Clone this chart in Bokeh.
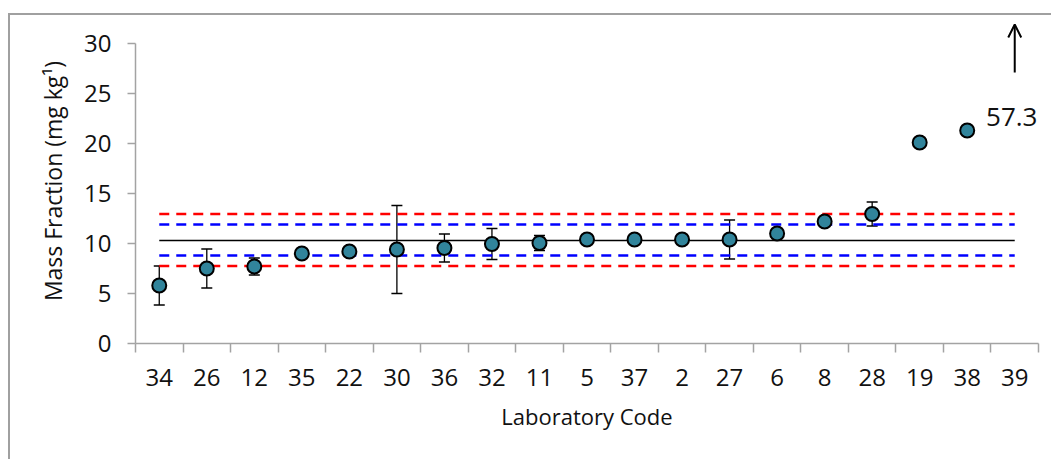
from bokeh.plotting import figure
from bokeh.models import (ColumnDataSource, Range1d, FixedTicker, Whisker, TeeHead,
                          Arrow, OpenHead)
from bokeh.core.properties import value
from bokeh.embed import file_html
from bokeh.resources import INLINE

# ---- data ----
lab_codes = ["34", "26", "12", "35", "22", "30", "36", "32", "11", "5",
             "37", "2", "27", "6", "8", "28", "19", "38", "39"]
mass_fraction = [5.8, 7.5, 7.7, 9.0, 9.2, 9.4, 9.55, 9.95, 10.05, 10.4,
                 10.4, 10.4, 10.4, 11.0, 12.2, 12.95, 20.1, 21.3, 57.3]
uncertainty = [1.95, 1.95, 0.85, 0, 0, 4.4, 1.4, 1.55, 0.75, 0,
               0, 0, 1.95, 0, 0, 1.2, 0, 0, 0]
assigned_value = 10.3
red_limits = [12.95, 7.75]
blue_limits = [11.9, 8.8]
y_ticks = [0, 5, 10, 15, 20, 25, 30]

FONT = "Open Sans"
AXIS_GREY = "#a3a3a3"

xs = [i + 0.5 for i in range(len(lab_codes))]

p = figure(width=1043, height=446,
           x_range=Range1d(0, len(lab_codes)), y_range=Range1d(0, 32.5),
           output_backend="svg", toolbar_location=None,
           min_border_left=125, min_border_right=15,
           min_border_top=3, min_border_bottom=118)
p.margin = (13, 0, 0, 8)
p.styles = {"border-left": "2px solid #a0a0a0", "border-top": "2px solid #a0a0a0"}
p.outline_line_color = None
p.xgrid.visible = False
p.ygrid.visible = False
p.background_fill_color = "white"
p.border_fill_color = "white"

# reference lines
for v in red_limits:
    p.line([xs[0], xs[-1]], [v, v], line_color="#ff0000", line_width=2.5, line_dash="10 7")
for v in blue_limits:
    p.line([xs[0], xs[-1]], [v, v], line_color="#0000ff", line_width=2.5, line_dash="10 7")
p.line([xs[0], xs[-1]], [assigned_value, assigned_value], line_color="black", line_width=1.5)

# error bars
eb = [(x, v, u) for x, v, u in zip(xs, mass_fraction, uncertainty) if u > 0]
eb_src = ColumnDataSource(dict(x=[e[0] for e in eb],
                               upper=[e[1] + e[2] for e in eb],
                               lower=[e[1] - e[2] for e in eb]))
w = Whisker(source=eb_src, base="x", upper="upper", lower="lower", dimension="height",
            line_color="black", line_width=1.3, level="underlay",
            upper_head=TeeHead(size=11, line_color="black", line_width=1.3),
            lower_head=TeeHead(size=11, line_color="black", line_width=1.3))
p.add_layout(w)

# points
src = ColumnDataSource(dict(x=xs, y=mass_fraction))
p.scatter("x", "y", source=src, size=14, fill_color="#31849b",
          line_color="black", line_width=2)

# off-scale value for the last lab
p.add_layout(Arrow(end=OpenHead(size=13, line_width=2, line_color="black"),
                   x_start=xs[-1], y_start=27.1, x_end=xs[-1], y_end=31.9,
                   line_width=2, line_color="black"))
p.text(x=[xs[-1]], y=[22.7], text=[f"{mass_fraction[-1]}"], x_offset=-3,
       text_font=value(FONT), text_font_size="26px", text_align="center",
       text_baseline="alphabetic", text_color="#111111")

# x axis
xa = p.xaxis[0]
xa.ticker = FixedTicker(ticks=xs, minor_ticks=list(range(len(lab_codes) + 1)))
xa.major_label_overrides = {x: c for x, c in zip(xs, lab_codes)}
xa.major_tick_out = 0
xa.major_tick_in = 0
xa.minor_tick_out = 9
xa.minor_tick_in = 0
xa.minor_tick_line_color = AXIS_GREY
xa.minor_tick_line_width = 1.5
xa.axis_line_color = AXIS_GREY
xa.axis_line_width = 1.5
xa.major_label_text_font = FONT
xa.major_label_text_font_size = "24px"
xa.major_label_text_color = "#111111"
xa.major_label_standoff = 16
xa.axis_label = "Laboratory Code"
xa.axis_label_text_font = FONT
xa.axis_label_text_font_size = "22px"
xa.axis_label_text_font_style = "normal"
xa.axis_label_text_color = "#111111"
xa.axis_label_standoff = 12

# y axis
ya = p.yaxis[0]
ya.ticker = FixedTicker(ticks=y_ticks)
ya.bounds = (y_ticks[0], y_ticks[-1])
ya.major_tick_out = 8
ya.major_tick_in = 0
ya.minor_tick_out = 0
ya.minor_tick_in = 0
ya.major_tick_line_color = AXIS_GREY
ya.major_tick_line_width = 1.5
ya.axis_line_color = AXIS_GREY
ya.axis_line_width = 1.5
ya.major_label_text_font = FONT
ya.major_label_text_font_size = "24px"
ya.major_label_text_color = "#111111"
ya.major_label_standoff = 16
ya.axis_label = "Mass Fraction (mg kg¹)"
ya.axis_label_text_font = FONT
ya.axis_label_text_font_size = "23px"
ya.axis_label_text_font_style = "normal"
ya.axis_label_text_color = "#111111"
ya.axis_label_standoff = 12

open("out.html", "w").write(file_html(p, INLINE))
